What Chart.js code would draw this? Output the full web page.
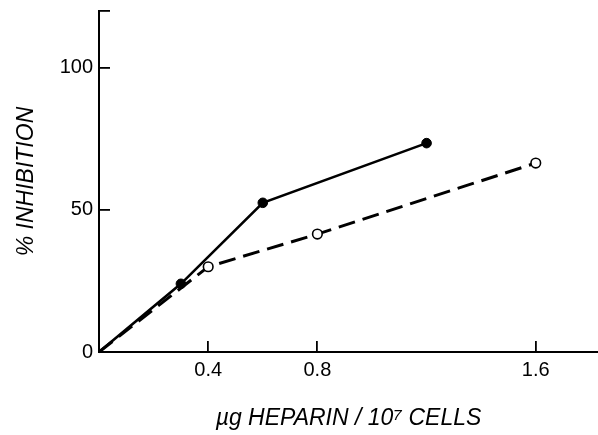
<!DOCTYPE html>
<html>
<head>
<meta charset="utf-8">
<script src="https://cdn.jsdelivr.net/npm/chart.js@4.4.0/dist/chart.umd.min.js"></script>
<style>
html,body{margin:0;padding:0;background:#fff;}
#wrap{width:598px;height:435px;}
</style>
</head>
<body>
<div id="wrap"><canvas id="c" width="598" height="435"></canvas></div>
<script>
// Data
const filledX = [0, 0.3, 0.6, 1.2];
const filledY = [0, 24, 52.5, 73.5];
const openX = [0, 0.4, 0.8, 1.6];
const openY = [0, 30, 41.5, 66.5];
const xTickValues = [0.4, 0.8, 1.6];
const yTickValues = [0, 50, 100, 120];
const yTickLabels = ['0', '50', '100', ''];
const xTitle = 'µg HEPARIN / 10⁷ CELLS';
const yTitle = '% INHIBITION';

const toPts = (xs, ys) => xs.map((x, i) => ({x: x, y: ys[i]}));

new Chart(document.getElementById('c'), {
  type: 'scatter',
  data: {
    datasets: [
      {
        data: toPts(filledX, filledY),
        showLine: true,
        borderColor: '#000',
        borderWidth: 2.6,
        backgroundColor: '#000',
        pointBackgroundColor: '#000',
        pointBorderColor: '#000',
        pointBorderWidth: 1,
        pointRadius: c => c.dataIndex === 0 ? 0 : 4.8,
        clip: false
      },
      {
        data: toPts(openX, openY),
        showLine: true,
        borderColor: '#000',
        borderWidth: 3,
        borderDash: [17, 8],
        pointBackgroundColor: '#fff',
        pointBorderColor: '#000',
        pointBorderWidth: 1.6,
        pointRadius: c => c.dataIndex === 0 ? 0 : 4.8,
        clip: false
      }
    ]
  },
  options: {
    responsive: false,
    animation: false,
    layout: {autoPadding: false, padding: {top: 11, left: 0, right: 0, bottom: 0}},
    plugins: {legend: {display: false}, tooltip: {enabled: false}},
    scales: {
      x: {
        type: 'linear',
        min: 0,
        max: 1.828,
        afterBuildTicks: s => { s.ticks = xTickValues.map(v => ({value: v})); },
        afterFit: s => { s.height = 83; s.paddingLeft = 0; s.paddingRight = 0; },
        border: {display: true, color: '#000', width: 2},
        grid: {drawOnChartArea: false, drawTicks: true, tickLength: -11, color: '#000', lineWidth: 1.8},
        ticks: {
          color: '#000',
          padding: 17,
          maxRotation: 0,
          font: {family: 'Liberation Sans', size: 20},
          callback: v => String(v)
        },
        title: {
          display: true,
          text: xTitle,
          color: '#000',
          font: {family: 'Liberation Sans', size: 23, style: 'italic'},
          padding: {top: 0, bottom: 3}
        }
      },
      y: {
        type: 'linear',
        min: 0,
        max: 120,
        afterBuildTicks: s => { s.ticks = yTickValues.map(v => ({value: v})); },
        afterFit: s => { s.width = 99; s.paddingTop = 0; s.paddingBottom = 0; },
        border: {display: true, color: '#000', width: 2},
        grid: {drawOnChartArea: false, drawTicks: true, tickLength: -11, color: '#000', lineWidth: 1.8},
        ticks: {
          color: '#000',
          padding: 17,
          font: {family: 'Liberation Sans', size: 20},
          callback: (v, i) => yTickLabels[yTickValues.indexOf(v)] ?? ''
        },
        title: {
          display: true,
          text: yTitle,
          color: '#000',
          font: {family: 'Liberation Sans', size: 23, style: 'italic'},
          padding: {top: 13, bottom: 0}
        }
      }
    }
  }
});
</script>
</body>
</html>
